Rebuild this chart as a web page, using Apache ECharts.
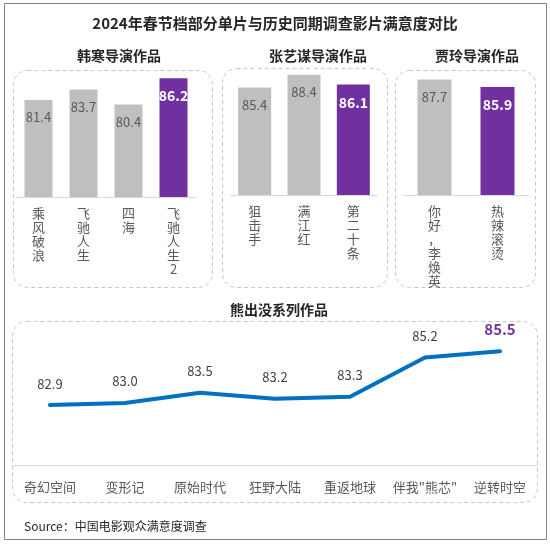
<!DOCTYPE html>
<html>
<head>
<meta charset="utf-8">
<script src="https://cdn.jsdelivr.net/npm/echarts@6/dist/echarts.min.js"></script>
<style>
html,body{margin:0;padding:0;background:#fff;}
#c{width:550px;height:546px;}
</style>
</head>
<body>
<div id="c"></div>
<script>
const mainTitle = '2024年春节档部分单片与历史同期调查影片满意度对比';
const sourceText = 'Source：中国电影观众满意度调查';

const hanhanTitle = '韩寒导演作品';
const hanhanCats = ['乘风破浪', '飞驰人生', '四海', '飞驰人生2'];
const hanhanVals = [81.4, 83.7, 80.4, 86.2];

const zhangTitle = '张艺谋导演作品';
const zhangCats = ['狙击手', '满江红', '第二十条'];
const zhangVals = [85.4, 88.4, 86.1];

const jiaTitle = '贾玲导演作品';
const jiaCats = ['你好，李焕英', '热辣滚烫'];
const jiaVals = [87.7, 85.9];

const boonieTitle = '熊出没系列作品';
const boonieCats = ['奇幻空间', '变形记', '原始时代', '狂野大陆', '重返地球', '伴我"熊芯"', '逆转时空'];
const boonieVals = [82.9, 83.0, 83.5, 83.2, 83.3, 85.2, 85.5];

const FONT = '"Noto Sans CJK SC", "Noto Sans", sans-serif';
const GRAY = '#BFBFBF';
const PURPLE = '#7030A0';
const BLUE = '#0070C0';

function barData(vals) {
  return vals.map((v, i) => {
    const last = i === vals.length - 1;
    return {
      value: v,
      itemStyle: { color: last ? PURPLE : GRAY },
      label: last
        ? { color: '#fff', fontWeight: 'bold', fontSize: 14 }
        : { color: '#595959', fontWeight: 'normal', fontSize: 13 }
    };
  });
}

const grids = [
  { left: 16, width: 180, top: 70, height: 127 },
  { left: 230, width: 148, top: 68, height: 127 },
  { left: 403, width: 126, top: 70, height: 125 },
  { left: 12.5, width: 525, top: 341, height: 124 }
];

const vertLabel = {
  fontFamily: FONT, fontSize: 13, lineHeight: 14, color: '#595959', margin: 9,
  verticalAlign: 'top', interval: 0,
  formatter: v => v.split('').join('\n')
};

function catAxis(idx, cats, label) {
  return {
    type: 'category', gridIndex: idx, data: cats,
    axisLine: { lineStyle: { color: '#D9D9D9', width: 1 } },
    axisTick: { show: false },
    axisLabel: label
  };
}
function valAxis(idx, min, max) {
  return { type: 'value', gridIndex: idx, min: min, max: max, show: false, splitLine: { show: false } };
}

function boxRect(x, y, w, h) {
  return {
    type: 'rect', shape: { x: x, y: y, width: w, height: h, r: 14 }, z: -1,
    style: { fill: 'none', stroke: '#C8C8C8', lineWidth: 1, lineDash: [4, 3] }
  };
}

function subTitle(text, cx, cy) {
  return {
    text: text, left: cx, top: cy, textAlign: 'center',
    textStyle: { fontFamily: FONT, fontSize: 14, fontWeight: 'bold', color: '#262626' }
  };
}

const chart = echarts.init(document.getElementById('c'));
chart.setOption({
  backgroundColor: '#fff',
  animation: false,
  textStyle: { fontFamily: FONT },
  title: [
    { text: mainTitle, left: 'center', top: 11,
      textStyle: { fontFamily: FONT, fontSize: 15, fontWeight: 'bold', color: '#262626' } },
    subTitle(hanhanTitle, 114, 44),
    subTitle(zhangTitle, 313, 44),
    subTitle(jiaTitle, 472, 44),
    subTitle(boonieTitle, 274, 298),
    { text: sourceText, left: 19, top: 515,
      textStyle: { fontFamily: FONT, fontSize: 12, fontWeight: 'normal', color: '#262626' } }
  ],
  graphic: [
    { type: 'rect', shape: { x: 4.5, y: 3.5, width: 542, height: 536 }, z: -2,
      style: { fill: 'none', stroke: '#7F7F7F', lineWidth: 1 } },
    boxRect(13.5, 70.5, 199, 217),
    boxRect(222.5, 68.5, 165, 219),
    boxRect(395.5, 70.5, 140, 217),
    boxRect(12.5, 321.5, 525, 181)
  ],
  grid: grids,
  xAxis: [
    catAxis(0, hanhanCats, vertLabel),
    catAxis(1, zhangCats, vertLabel),
    catAxis(2, jiaCats, vertLabel),
    catAxis(3, boonieCats, { fontFamily: FONT, fontSize: 13, color: '#595959', margin: 16, interval: 0 })
  ],
  yAxis: [
    valAxis(0, 60, 88),
    valAxis(1, 60, 90),
    valAxis(2, 60, 90),
    valAxis(3, 80, 86)
  ],
  series: [
    { type: 'bar', xAxisIndex: 0, yAxisIndex: 0, barWidth: 28, data: barData(hanhanVals),
      label: { show: true, position: 'insideTop', distance: 11, fontFamily: FONT, formatter: p => p.value.toFixed(1) } },
    { type: 'bar', xAxisIndex: 1, yAxisIndex: 1, barWidth: 33, data: barData(zhangVals),
      label: { show: true, position: 'insideTop', distance: 11, fontFamily: FONT, formatter: p => p.value.toFixed(1) } },
    { type: 'bar', xAxisIndex: 2, yAxisIndex: 2, barWidth: 34, data: barData(jiaVals),
      label: { show: true, position: 'insideTop', distance: 11, fontFamily: FONT, formatter: p => p.value.toFixed(1) } },
    { type: 'line', xAxisIndex: 3, yAxisIndex: 3,
      symbol: 'circle', symbolSize: 2, itemStyle: { color: BLUE },
      lineStyle: { color: BLUE, width: 4, join: 'round', cap: 'round' },
      data: boonieVals.map((v, i) => i === boonieVals.length - 1
        ? { value: v, label: { color: PURPLE, fontWeight: 'bold', fontSize: 15 } }
        : { value: v }),
      label: { show: true, position: 'top', distance: 14, fontFamily: FONT, fontSize: 13, color: '#404040',
        formatter: p => p.value.toFixed(1) } }
  ]
});
</script>
</body>
</html>
